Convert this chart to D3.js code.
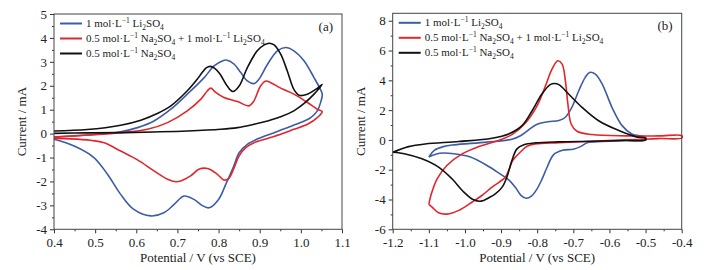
<!DOCTYPE html>
<html>
<head>
<meta charset="utf-8">
<script src="https://cdn.jsdelivr.net/npm/d3@7"></script>
<style>
  body { margin: 0; background: #fff; }
  svg { display: block; }
  text { font-family: "Liberation Serif", "Times New Roman", serif; fill: #222; }
</style>
</head>
<body>
<svg id="chart" width="706" height="270"></svg>
<script>
// ---- panel (a) data: [potential V, current mA], anodic sweep then back ----
const liA = [
  [0.400,-0.14],[0.481,-0.06],[0.562,0.08],[0.603,0.25],[0.643,0.53],[0.684,1.02],
  [0.724,1.65],[0.765,2.34],[0.789,2.83],[0.809,3.04],[0.821,3.07],[0.838,2.90],
  [0.854,2.55],[0.870,2.20],[0.886,2.09],[0.898,2.27],[0.919,2.90],[0.943,3.46],
  [0.963,3.60],[0.983,3.46],[1.008,3.04],[1.032,2.34],[1.046,1.90],[1.052,1.65],
  [1.048,1.30],[1.040,0.95],[1.024,0.67],[0.999,0.46],[0.967,0.25],[0.935,0.04],
  [0.902,-0.17],[0.870,-0.45],[0.850,-0.80],[0.836,-1.40],[0.818,-2.10],[0.800,-2.75],
  [0.777,-3.10],[0.762,-3.02],[0.740,-2.75],[0.716,-2.61],[0.692,-2.96],[0.667,-3.31],
  [0.635,-3.44],[0.594,-3.17],[0.562,-2.54],[0.530,-1.70],[0.497,-1.00],[0.449,-0.52],
  [0.400,-0.24]
];
const mixA = [
  [0.400,-0.14],[0.481,-0.06],[0.562,0.04],[0.627,0.18],[0.676,0.46],[0.724,0.95],
  [0.757,1.44],[0.773,1.79],[0.781,1.90],[0.793,1.72],[0.813,1.51],[0.846,1.34],
  [0.874,1.16],[0.886,1.37],[0.902,1.99],[0.915,2.20],[0.927,2.13],[0.951,1.90],
  [0.983,1.65],[1.016,1.30],[1.040,1.02],[1.052,0.92],
  [1.040,0.67],[1.016,0.39],[0.983,0.18],[0.951,-0.03],[0.919,-0.20],[0.886,-0.38],
  [0.866,-0.59],[0.850,-0.93],[0.838,-1.42],[0.825,-1.87],[0.813,-1.94],[0.797,-1.70],
  [0.773,-1.46],[0.752,-1.49],[0.732,-1.77],[0.708,-1.98],[0.696,-2.01],[0.676,-1.91],
  [0.643,-1.56],[0.603,-1.10],[0.562,-0.73],[0.522,-0.38],[0.489,-0.28],[0.441,-0.22],
  [0.400,-0.20]
];
const naA = [
  [0.400,0.11],[0.481,0.17],[0.562,0.35],[0.611,0.56],[0.651,0.84],[0.684,1.16],
  [0.724,1.79],[0.748,2.27],[0.760,2.55],[0.770,2.75],[0.780,2.81],[0.790,2.74],
  [0.803,2.50],[0.821,1.99],[0.835,1.76],[0.850,1.99],[0.870,2.76],[0.894,3.46],
  [0.911,3.71],[0.923,3.78],[0.935,3.71],[0.951,3.32],[0.967,2.62],[0.983,1.85],
  [0.996,1.60],[1.016,1.65],[1.036,1.85],[1.052,2.06],
  [1.032,1.65],[1.008,1.26],[0.983,0.95],[0.951,0.70],[0.919,0.53],[0.886,0.39],
  [0.846,0.25],[0.805,0.18],[0.724,0.11],[0.643,0.07],[0.562,0.04],[0.481,0.03],
  [0.400,0.01]
];

// ---- panel (b) data ----
const liB = [
  [-1.100,-1.14],[-1.085,-0.70],[-1.060,-0.45],[-1.030,-0.33],[-0.940,-0.15],[-0.870,0.05],
  [-0.845,0.30],[-0.825,0.65],[-0.800,1.05],[-0.770,1.22],[-0.740,1.30],[-0.722,1.52],
  [-0.704,2.19],[-0.685,3.30],[-0.667,4.20],[-0.655,4.53],[-0.639,4.42],[-0.620,3.75],
  [-0.593,2.19],[-0.565,0.96],[-0.538,0.40],[-0.500,0.18],
  [-0.500,0.00],[-0.556,-0.04],[-0.620,-0.10],[-0.660,-0.18],[-0.680,-0.45],[-0.700,-0.62],
  [-0.730,-0.70],[-0.755,-1.00],[-0.772,-1.80],[-0.787,-2.65],[-0.802,-3.35],[-0.816,-3.78],
  [-0.830,-3.92],[-0.845,-3.72],[-0.860,-3.20],[-0.878,-2.70],[-0.905,-2.25],[-0.940,-1.70],
  [-0.985,-1.15],[-1.030,-0.93],[-1.070,-0.90],[-1.100,-1.14]
];
const mixB = [
  [-1.100,-4.33],[-1.093,-3.62],[-1.077,-2.61],[-1.050,-1.72],[-1.008,-0.94],[-0.962,-0.45],
  [-0.916,-0.11],[-0.870,0.36],[-0.833,1.12],[-0.800,2.30],[-0.777,3.64],[-0.759,4.75],
  [-0.743,5.31],[-0.731,5.09],[-0.722,3.97],[-0.715,2.41],[-0.706,1.07],[-0.690,0.58],
  [-0.648,0.36],[-0.556,0.27],[-0.464,0.27],[-0.400,0.29],
  [-0.400,0.13],[-0.464,0.09],[-0.556,0.00],[-0.648,-0.09],[-0.740,-0.18],[-0.805,-0.27],
  [-0.828,-0.42],[-0.842,-0.71],[-0.856,-1.05],[-0.868,-1.38],[-0.877,-1.94],[-0.888,-2.50],
  [-0.905,-2.83],[-0.925,-3.17],[-0.953,-3.73],[-0.980,-4.17],[-1.017,-4.73],[-1.050,-4.98],
  [-1.073,-4.89],[-1.091,-4.51],[-1.100,-4.33]
];
const naB = [
  [-1.200,-0.83],[-1.156,-0.45],[-1.110,-0.27],[-1.017,-0.11],[-0.925,0.11],[-0.879,0.40],
  [-0.842,0.96],[-0.814,1.96],[-0.787,3.08],[-0.764,3.71],[-0.752,3.79],[-0.740,3.71],
  [-0.713,3.08],[-0.676,2.19],[-0.630,1.29],[-0.574,0.63],[-0.528,0.22],[-0.500,0.11],
  [-0.500,0.00],[-0.556,-0.04],[-0.648,-0.09],[-0.740,-0.13],[-0.805,-0.20],[-0.837,-0.33],
  [-0.856,-0.60],[-0.870,-1.38],[-0.884,-2.50],[-0.897,-3.17],[-0.916,-3.62],[-0.934,-3.88],
  [-0.955,-4.11],[-0.976,-4.02],[-1.003,-3.50],[-1.036,-2.61],[-1.073,-1.83],[-1.119,-1.27],
  [-1.165,-0.94],[-1.200,-0.83]
];

// ---- ticks ----
const aXTicks = [0.4, 0.5, 0.6, 0.7, 0.8, 0.9, 1.0, 1.1];
const aYTicks = [-4, -3, -2, -1, 0, 1, 2, 3, 4, 5];
const bXTicks = [-1.2, -1.1, -1.0, -0.9, -0.8, -0.7, -0.6, -0.5, -0.4];
const bYTicks = [-6, -4, -2, 0, 2, 4, 6, 8];

// ---- legend labels, as [text, kind] pieces ----
const liName = [["1 mol·L", ""], ["−1", "sup"], [" Li", ""], ["2", "sub"], ["SO", ""], ["4", "sub"]];
const mixName = [["0.5 mol·L", ""], ["−1", "sup"], [" Na", ""], ["2", "sub"], ["SO", ""], ["4", "sub"],
  [" + 1 mol·L", ""], ["−1", "sup"], [" Li", ""], ["2", "sub"], ["SO", ""], ["4", "sub"]];
const naName = [["0.5 mol·L", ""], ["−1", "sup"], [" Na", ""], ["2", "sub"], ["SO", ""], ["4", "sub"]];

const colors = { li: "#3d5ca8", mix: "#e3262b", na: "#111111" };

const svg = d3.select("#chart");

function midpoints(ticks) {
  const out = [];
  for (let i = 0; i < ticks.length - 1; i++) out.push((ticks[i] + ticks[i + 1]) / 2);
  return out;
}

function richText(sel, pieces) {
  let shift = 0;
  pieces.forEach(([txt, kind]) => {
    const want = kind === "sup" ? -4 : kind === "sub" ? 3 : 0;
    sel.append("tspan")
      .attr("dy", want - shift)
      .attr("font-size", kind ? 7.5 : null)
      .text(txt);
    shift = want;
  });
}

function drawPanel(p) {
  const x = d3.scaleLinear().domain(p.xDomain).range([p.left, p.right]);
  const y = d3.scaleLinear().domain(p.yDomain).range([p.bottom, p.top]);
  const fmt = d => d.toFixed(p.xDigits);

  const g = svg.append("g");

  // minor ticks
  g.append("g")
    .attr("transform", `translate(0,${p.bottom})`)
    .call(d3.axisBottom(x).tickValues(midpoints(p.xTicks)).tickSize(2).tickFormat(""));
  g.append("g")
    .attr("transform", `translate(${p.left},0)`)
    .call(d3.axisLeft(y).tickValues(p.yMinor).tickSize(2).tickFormat(""));

  // major ticks
  g.append("g")
    .attr("class", "xaxis")
    .attr("transform", `translate(0,${p.bottom})`)
    .call(d3.axisBottom(x).tickValues(p.xTicks).tickSize(4).tickPadding(4).tickFormat(d => fmt(d).replace("−", "-")));
  g.append("g")
    .attr("class", "yaxis")
    .attr("transform", `translate(${p.left},0)`)
    .call(d3.axisLeft(y).tickValues(p.yTicks).tickSize(4).tickPadding(3).tickFormat(d => String(d)));

  g.selectAll(".domain").remove();
  g.selectAll(".tick line").attr("stroke", "#333");
  g.selectAll(".tick text")
    .attr("font-family", "Liberation Serif, serif")
    .attr("font-size", 13)
    .attr("fill", "#222");

  // curves
  const line = d3.line()
    .x(d => x(d[0]))
    .y(d => y(d[1]))
    .curve(d3.curveCatmullRom.alpha(0.5));

  p.series.forEach(s => {
    g.append("path")
      .datum(s.data)
      .attr("fill", "none")
      .attr("stroke", s.color)
      .attr("stroke-width", 1.6)
      .attr("stroke-linejoin", "round")
      .attr("d", line);
  });

  // frame
  g.append("rect")
    .attr("x", p.left).attr("y", p.top)
    .attr("width", p.right - p.left).attr("height", p.bottom - p.top)
    .attr("fill", "none").attr("stroke", "#444").attr("stroke-width", 1);

  // legend
  p.series.forEach((s, i) => {
    const ly = p.top + 9.5 + i * 15;
    g.append("line")
      .attr("x1", p.left + 6).attr("x2", p.left + 28)
      .attr("y1", ly).attr("y2", ly)
      .attr("stroke", s.color).attr("stroke-width", 2);
    const t = g.append("text")
      .attr("x", p.left + 32).attr("y", ly + 3.5)
      .attr("font-size", 11);
    richText(t, s.name);
  });

  g.append("text")
    .attr("x", p.right - 9).attr("y", p.top + 17)
    .attr("text-anchor", "end")
    .attr("font-size", 13)
    .text(p.tag);

  // axis titles
  g.append("text")
    .attr("x", (p.left + p.right) / 2).attr("y", 262)
    .attr("text-anchor", "middle")
    .attr("font-size", 13)
    .text("Potential / V (vs SCE)");
  g.append("text")
    .attr("transform", `translate(${p.left - 28},${(p.top + p.bottom) / 2}) rotate(-90)`)
    .attr("text-anchor", "middle")
    .attr("font-size", 13)
    .text("Current / mA");
}

drawPanel({
  left: 54, right: 342, top: 14, bottom: 229.3,
  xDomain: [0.4, 1.1], yDomain: [-4, 5],
  xTicks: aXTicks, yTicks: aYTicks, yMinor: midpoints(aYTicks), xDigits: 1,
  tag: "(a)",
  series: [
    { data: liA, color: colors.li, name: liName },
    { data: mixA, color: colors.mix, name: mixName },
    { data: naA, color: colors.na, name: naName }
  ]
});

drawPanel({
  left: 392.7, right: 681.7, top: 13.3, bottom: 229.3,
  xDomain: [-1.2, -0.4], yDomain: [-6, 8.5],
  xTicks: bXTicks, yTicks: bYTicks, yMinor: midpoints(bYTicks), xDigits: 1,
  tag: "(b)",
  series: [
    { data: liB, color: colors.li, name: liName },
    { data: mixB, color: colors.mix, name: mixName },
    { data: naB, color: colors.na, name: naName }
  ]
});
</script>
</body>
</html>
